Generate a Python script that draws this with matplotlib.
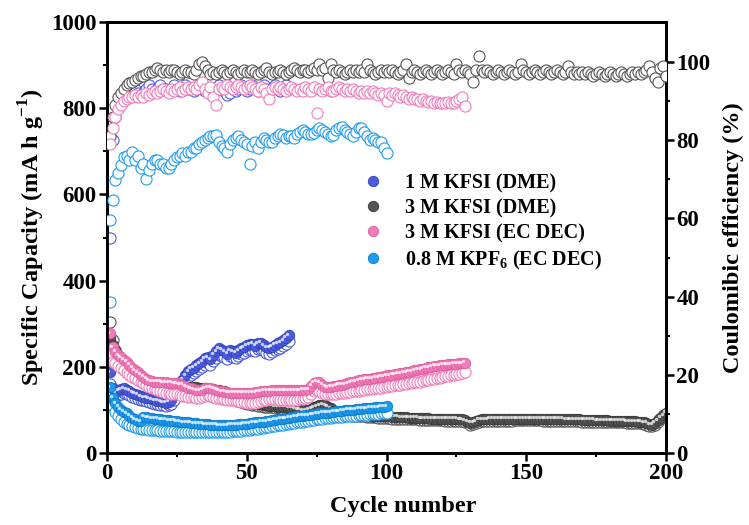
import matplotlib.pyplot as plt
from matplotlib.lines import Line2D
from matplotlib.transforms import offset_copy

plt.rcParams['font.family'] = 'Liberation Serif'
plt.rcParams['font.weight'] = 'bold'
plt.rcParams['mathtext.fontset'] = 'custom'
plt.rcParams['mathtext.rm'] = 'Liberation Serif:bold'
plt.rcParams['mathtext.bf'] = 'Liberation Serif:bold'

labels = ["1 M KFSI (DME)", "3 M KFSI (DME)", "3 M KFSI (EC DEC)",
          r"0.8 M KPF$_6$ (EC DEC)"]

# 1 M KFSI (DME), cycles 1-65
blue_charge = [188, 150, 141, 145, 148, 150, 147, 144, 140, 137,
               135, 132, 130, 128, 127, 125, 123, 121, 120, 118,
               117, 119, 124, 134, 150, 163, 170, 180, 190, 195,
               198, 204, 208, 213, 220, 222, 218, 228, 236, 243,
               240, 236, 231, 239, 236, 233, 238, 243, 246, 250,
               252, 254, 249, 255, 256, 250, 246, 244, 247, 251,
               255, 257, 262, 268, 273]
blue_disch = [160, 140, 132, 134, 137, 139, 137, 134, 131, 128,
              126, 124, 122, 120, 119, 117, 115, 114, 112, 111,
              110, 111, 115, 124, 138, 150, 157, 166, 176, 181,
              185, 190, 194, 199, 205, 208, 205, 214, 221, 228,
              226, 223, 219, 225, 223, 221, 225, 229, 232, 236,
              238, 240, 236, 241, 242, 237, 233, 231, 234, 238,
              242, 244, 249, 254, 259]
blue_ce = [55, 80, 86, 89, 91, 92, 93, 94.5, 94, 93,
           92, 91.5, 92, 93, 94, 93, 92.5, 93, 94, 93,
           93, 92.5, 93, 94, 93, 92.5, 93, 94, 93, 93,
           92.5, 93, 94, 93, 92.5, 93, 92.5, 92, 93, 94,
           93, 92.5, 91.5, 92, 93, 92.5, 93, 94, 93, 92.5,
           93, 94, 93, 92.5, 93, 94, 93, 92.5, 93, 94,
           93, 92.5, 93, 94, 93]

# 3 M KFSI (DME), cycles 1-200
grey_charge = [268, 250, 238, 228, 220, 212, 205, 198, 192, 186,
               181, 177, 173, 170, 167, 165, 163, 162, 161, 160,
               159, 158, 158, 157, 156, 156, 155, 155, 154, 154,
               153, 153, 152, 151, 150, 149, 148, 148, 147, 146,
               145, 143, 140, 136, 132, 128, 125, 122, 120, 118,
               117, 116, 115, 114, 113, 112, 111, 110, 110, 109,
               108, 108, 107, 107, 106, 105, 104, 102, 100, 99,
               99, 100, 103, 106, 109, 111, 112, 111, 108, 104,
               98, 95, 94, 93, 93, 92, 92, 91, 90, 90,
               89, 89, 88, 88, 87, 87, 86, 86, 85, 85,
               85, 84, 84, 84, 83, 83, 83, 82, 82, 82,
               82, 81, 81, 81, 81, 80, 80, 80, 80, 80,
               79, 79, 79, 79, 79, 78, 78, 76, 73, 70,
               71, 74, 77, 78, 78, 78, 79, 79, 79, 79,
               79, 79, 79, 79, 79, 80, 80, 80, 80, 80,
               80, 80, 80, 80, 80, 79, 79, 79, 79, 79,
               79, 79, 79, 78, 78, 78, 78, 78, 78, 77,
               77, 77, 77, 77, 76, 76, 76, 76, 76, 75,
               75, 75, 75, 75, 75, 74, 74, 74, 74, 73,
               73, 72, 70, 67, 66, 70, 76, 82, 88, 93]
grey_disch = [305, 262, 240, 226, 215, 207, 200, 194, 188, 182,
              177, 173, 169, 166, 163, 161, 159, 158, 157, 156,
              155, 154, 154, 153, 152, 152, 151, 151, 150, 150,
              149, 149, 148, 147, 146, 145, 144, 144, 143, 142,
              141, 139, 136, 132, 128, 124, 121, 118, 116, 114,
              113, 112, 111, 110, 109, 108, 107, 106, 106, 105,
              104, 104, 103, 103, 102, 101, 100, 98, 96, 95,
              95, 96, 99, 102, 105, 107, 108, 107, 104, 100,
              94, 91, 90, 89, 89, 88, 88, 87, 86, 86,
              85, 85, 84, 84, 83, 83, 82, 82, 81, 81,
              81, 80, 80, 80, 79, 79, 79, 78, 78, 78,
              78, 77, 77, 77, 77, 76, 76, 76, 76, 76,
              75, 75, 75, 75, 75, 74, 74, 72, 69, 66,
              67, 70, 73, 74, 74, 74, 75, 75, 75, 75,
              75, 75, 75, 75, 75, 76, 76, 76, 76, 76,
              76, 76, 76, 76, 76, 75, 75, 75, 75, 75,
              75, 75, 75, 74, 74, 74, 74, 74, 74, 73,
              73, 73, 73, 73, 72, 72, 72, 72, 72, 71,
              71, 71, 71, 71, 71, 70, 70, 70, 70, 69,
              69, 68, 66, 63, 62, 66, 72, 78, 84, 89]
grey_ce = [81.0, 86.0, 89.0, 91.0, 92.0, 93.0, 94.0, 94.5, 95.0, 95.5,
           96.0, 96.5, 96.5, 97.0, 97.5, 97.5, 98.0, 98.5, 98.0, 97.5,
           98.0, 97.5, 98.0, 98.0, 97.5, 97.0, 97.5, 98.0, 97.5, 97.5,
           97.0, 98.0, 99.5, 100.0, 99.0, 98.0, 97.0, 97.5, 97.0, 97.5,
           98.0, 97.5, 97.0, 97.5, 98.0, 97.5, 97.0, 97.5, 98.0, 97.5,
           97.5, 98.0, 97.5, 97.0, 97.5, 98.0, 98.5, 97.5, 97.0, 97.5,
           97.5, 98.0, 97.5, 97.0, 97.5, 98.0, 98.5, 98.0, 97.5, 98.0,
           98.0, 97.5, 98.0, 98.5, 98.0, 99.5, 98.0, 98.5, 96.0, 99.5,
           98.0, 97.5, 98.0, 97.5, 97.0, 97.5, 98.0, 97.5, 98.0, 97.5,
           98.0, 97.5, 99.5, 98.0, 97.5, 97.0, 97.5, 98.0, 97.5, 98.0,
           97.5, 98.0, 97.5, 97.0, 97.5, 98.0, 99.5, 96.0, 97.5, 98.0,
           97.5, 97.0, 97.5, 98.0, 97.5, 97.0, 97.5, 98.0, 97.5, 97.0,
           97.5, 98.0, 97.5, 97.0, 99.5, 98.0, 97.5, 98.0, 97.5, 97.0,
           95.0, 98.0, 101.5, 98.0, 97.5, 98.0, 97.5, 97.0, 97.5, 98.0,
           97.5, 97.0, 97.5, 98.0, 97.5, 97.0, 97.5, 99.5, 98.0, 97.5,
           97.0, 97.5, 98.0, 97.5, 97.0, 97.5, 98.0, 97.5, 97.0, 97.5,
           98.0, 97.5, 97.0, 97.5, 99.0, 97.5, 97.0, 97.5, 97.0, 97.5,
           97.0, 97.5, 97.0, 96.5, 97.0, 97.5, 97.0, 96.5, 97.0, 97.5,
           97.0, 96.5, 97.0, 97.5, 97.0, 96.5, 97.0, 97.5, 97.0, 97.5,
           97.0, 97.5, 98.0, 99.0, 97.5, 96.0, 95.0, 98.5, 99.0, 96.5]

# 3 M KFSI (EC DEC), cycles 1-128
pink_charge = [278, 246, 235, 227, 222, 216, 212, 205, 198, 192,
               188, 182, 177, 172, 169, 167, 166, 165, 165, 164,
               164, 163, 163, 162, 162, 160, 158, 155, 152, 150,
               148, 146, 146, 147, 150, 152, 151, 149, 147, 145,
               143, 142, 141, 140, 140, 140, 140, 140, 140, 140,
               140, 140, 141, 142, 143, 144, 145, 145, 146, 146,
               146, 146, 146, 146, 146, 146, 146, 146, 146, 147,
               147, 148, 156, 163, 165, 164, 158, 154, 153, 154,
               155, 156, 158, 159, 160, 162, 164, 165, 167, 169,
               170, 171, 172, 173, 174, 175, 176, 177, 178, 180,
               181, 182, 183, 184, 185, 186, 188, 189, 190, 192,
               193, 194, 196, 198, 199, 200, 202, 203, 204, 205,
               205, 206, 206, 207, 207, 208, 208, 209]
pink_disch = [230, 212, 208, 203, 198, 192, 186, 181, 177, 174,
              170, 166, 162, 158, 154, 151, 148, 146, 144, 142,
              140, 139, 138, 137, 136, 135, 133, 132, 131, 130,
              129, 128, 128, 130, 133, 135, 133, 130, 128, 127,
              126, 125, 124, 123, 122, 121, 120, 119, 118, 117,
              116, 116, 117, 118, 120, 122, 124, 125, 126, 126,
              125, 124, 124, 123, 123, 123, 124, 124, 125, 126,
              127, 129, 136, 143, 146, 145, 140, 137, 136, 137,
              138, 138, 139, 139, 140, 141, 142, 143, 144, 145,
              146, 147, 148, 148, 149, 150, 151, 152, 153, 154,
              155, 156, 157, 158, 159, 160, 161, 162, 163, 164,
              165, 166, 168, 169, 170, 171, 172, 174, 175, 176,
              178, 179, 180, 182, 183, 184, 186, 188]
pink_ce = [79.0, 83.0, 86.0, 88.0, 89.0, 90.0, 90.5, 91.0, 91.0, 91.5,
           91.0, 91.5, 91.0, 92.0, 91.5, 92.0, 92.5, 92.0, 92.5, 93.0,
           92.5, 92.0, 93.0, 92.5, 93.0, 93.5, 92.5, 93.0, 93.5, 93.0,
           93.5, 93.0, 94.0, 95.0, 93.0, 92.0, 93.5, 91.0, 89.0, 93.0,
           93.5, 93.0, 94.0, 93.5, 93.0, 93.5, 94.0, 93.5, 93.0, 93.5,
           94.0, 93.5, 93.0, 92.5, 93.5, 93.0, 92.0, 90.5, 93.0, 93.5,
           93.0, 93.5, 93.0, 92.5, 93.0, 93.5, 93.0, 92.5, 93.0, 92.5,
           93.5, 93.0, 92.5, 93.5, 87.0, 93.0, 92.5, 93.0, 93.5, 92.5,
           92.5, 93.0, 93.5, 93.0, 92.5, 93.0, 92.5, 93.0, 92.5, 92.0,
           92.5, 92.0, 92.5, 92.0, 92.5, 92.0, 91.5, 92.0, 91.5, 90.0,
           92.0, 91.5, 92.0, 91.5, 91.0, 91.5, 91.0, 90.5, 91.0, 90.5,
           90.5, 90.0, 90.5, 90.0, 89.8, 90.0, 89.5, 89.8, 89.5, 89.5,
           89.5, 89.8, 89.5, 89.5, 90.0, 90.5, 91.0, 88.7]

# 0.8 M KPF6 (EC DEC), cycles 1-100
cyan_charge = [153, 128, 116, 108, 101, 96, 92, 87, 82, 78,
               75, 74, 84, 83, 82, 81, 80, 79, 78, 77,
               77, 76, 75, 75, 74, 73, 72, 71, 71, 70,
               69, 69, 68, 68, 67, 67, 66, 66, 66, 65,
               65, 65, 65, 66, 66, 66, 67, 67, 68, 68,
               69, 70, 71, 72, 73, 73, 74, 75, 76, 77,
               78, 79, 80, 81, 82, 83, 84, 85, 86, 87,
               88, 88, 89, 90, 91, 92, 93, 93, 94, 95,
               96, 97, 97, 98, 99, 100, 100, 101, 102, 103,
               103, 104, 104, 105, 105, 106, 106, 107, 108, 109]
cyan_disch = [350, 110, 95, 86, 78, 72, 68, 64, 62, 60,
              58, 57, 56, 55, 54, 54, 53, 53, 52, 52,
              52, 51, 51, 51, 50, 50, 50, 50, 49, 49,
              49, 49, 49, 49, 49, 49, 49, 49, 49, 49,
              49, 50, 50, 50, 51, 51, 52, 52, 53, 54,
              54, 55, 56, 57, 58, 59, 60, 61, 62, 63,
              64, 65, 66, 67, 68, 69, 70, 71, 72, 73,
              74, 75, 76, 77, 78, 79, 80, 81, 81, 82,
              83, 83, 84, 84, 85, 86, 86, 87, 87, 88,
              88, 89, 89, 90, 90, 91, 91, 92, 92, 93]
cyan_ce = [59.6, 64.7, 69.8, 71.6, 73.6, 75.7, 76.0, 75.0, 77.0, 75.0,
           76.0, 73.0, 74.0, 70.0, 72.4, 74.0, 75.0, 75.0, 74.0, 74.0,
           73.0, 73.0, 74.0, 75.0, 75.7, 76.0, 76.7, 76.0, 77.0, 77.0,
           78.0, 78.0, 79.0, 79.5, 80.0, 80.5, 81.0, 81.0, 81.3, 79.5,
           78.5, 78.0, 77.0, 79.0, 80.0, 80.5, 81.0, 80.0, 79.5, 79.0,
           74.0, 78.5, 79.5, 78.0, 79.5, 80.5, 80.0, 79.5, 79.5, 80.5,
           81.0, 81.5, 81.3, 80.5, 81.0, 81.0, 80.5, 81.5, 82.0, 82.6,
           82.0, 81.5, 81.5, 81.8, 82.5, 83.0, 82.6, 82.0, 81.5, 81.0,
           81.3, 82.5, 83.0, 83.4, 82.5, 82.0, 81.5, 81.0, 82.0, 83.0,
           83.0, 82.0, 81.0, 80.0, 80.5, 80.0, 79.5, 79.5, 78.0, 76.7]

series = [
    (blue_charge, blue_disch, blue_ce, '#4a5be0', '#3242b8'),
    (grey_charge, grey_disch, grey_ce, '#555555', '#3a3a3a'),
    (pink_charge, pink_disch, pink_ce, '#f27bb8', '#dd5fa0'),
    (cyan_charge, cyan_disch, cyan_ce, '#1c9cf0', '#0c7acb'),
]

fig = plt.figure(figsize=(7.49, 5.25), dpi=100)
ax = fig.add_axes([0.1429, 0.137, 0.7463, 0.821])
ax2 = ax.twinx()

hl_shift = offset_copy(ax.transData, fig=fig, x=-1.1, y=1.1, units='points')

z = 2
for charge, disch, ce, col, edge in series:
    cyc = list(range(1, len(charge) + 1))
    ax.plot(cyc, disch, 'o', ls='none', ms=8, mfc='white', mec=col,
            mew=0.8, zorder=z)
    ax.plot(cyc, charge, 'o', ls='none', ms=7.5, mfc=col, mec=edge,
            mew=0.6, zorder=z + 0.1)
    ax.plot(cyc, charge, 'o', ls='none', ms=2.4, mfc='white', mec='none',
            alpha=0.75, zorder=z + 0.2, transform=hl_shift)
    ax2.plot(cyc, ce, 'o', ls='none', ms=8, mfc='white', mec=col,
             mew=0.8, zorder=z)
    z += 1

ax.set_xlim(0, 200)
ax.set_ylim(0, 1000)
ax2.set_ylim(0, 110.2)

ax.set_xticks([0, 50, 100, 150, 200])
ax.set_xticks(range(25, 200, 50), minor=True)
ax.set_yticks(range(0, 1001, 200))
ax.set_yticks(range(100, 1000, 200), minor=True)
ax2.set_yticks(range(0, 101, 20))
ax2.set_yticks(range(10, 110, 20), minor=True)

for a in (ax, ax2):
    a.tick_params(which='major', direction='out', length=5.5, width=1.8,
                  labelsize=16.5)
    a.tick_params(which='minor', direction='out', length=3, width=1.5)
    for s in a.spines.values():
        s.set_linewidth(2)
ax.tick_params(top=False, right=False, pad=2)
ax2.tick_params(pad=2)

ax.set_xlabel("Cycle number", fontsize=17.5, fontweight='bold', labelpad=1)
ax.xaxis.set_label_coords(0.53, -0.1)
ax.set_ylabel(r"Specific Capacity (mA h g$^{-1}$)", fontsize=17.5,
              fontweight='bold', labelpad=3)
ax2.set_ylabel("Coulomibic efficiency (%)", fontsize=17.5, fontweight='bold',
               labelpad=9)

handles = [Line2D([], [], marker='o', ls='none', ms=7.5, mfc=s[3],
                  mec=s[4], mew=0.6) for s in series]
ax.legend(handles, labels, loc='center left', bbox_to_anchor=(0.425, 0.535),
          frameon=False, fontsize=14.5, handlelength=1.0, handletextpad=1.1,
          labelspacing=0.25)

fig.savefig('out.png', dpi=100)
